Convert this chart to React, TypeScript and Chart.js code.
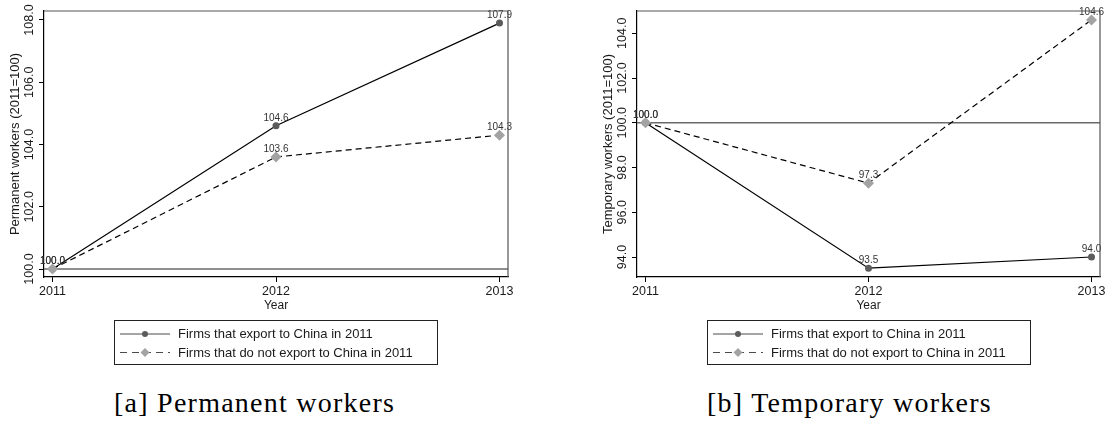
import React, { useEffect, useRef } from "react";
import { Chart, registerables } from "chart.js";

Chart.register(...registerables);

// ---------- data ----------
const years = [2011, 2012, 2013];
const xTickValues = [2011, 2012, 2013];
const seriesLabels = [
  "Firms that export to China in 2011",
  "Firms that do not export to China in 2011",
];
const permanentExport = [100.0, 104.6, 107.9];
const permanentNonExport = [100.0, 103.6, 104.3];
const temporaryExport = [100.0, 93.5, 94.0];
const temporaryNonExport = [100.0, 97.3, 104.6];
const permanentYTicks = [100, 102, 104, 106, 108];
const temporaryYTicks = [94, 96, 98, 100, 102, 104];
const referenceValue = 100;
const xTitle = "Year";

const SANS = "'Liberation Sans', Arial, Helvetica, sans-serif";
const SERIF = "'Liberation Serif', 'Times New Roman', serif";

type PanelProps = {
  exportVals: number[];
  nonExportVals: number[];
  yTicks: number[];
  yMin: number;
  yMax: number;
  yTitle: string;
  caption: string;
  left: number;
  width: number;
  padRight: number;
};

const CANVAS_H = 370;
const X_AXIS_H = 36;
const PLOT_TOP = 11;
const PLOT_BOTTOM = 277;

const refLinePlugin = {
  id: "refLine",
  beforeDatasetsDraw(chart: any) {
    const { ctx, chartArea } = chart;
    const y = chart.scales.y.getPixelForValue(referenceValue);
    ctx.save();
    ctx.strokeStyle = "#6a6a6a";
    ctx.lineWidth = 1.6;
    ctx.beginPath();
    ctx.moveTo(chartArea.left, y);
    ctx.lineTo(chartArea.right, y);
    ctx.stroke();
    ctx.restore();
  },
};

const framePlugin = {
  id: "frame",
  afterDraw(chart: any) {
    const { ctx, chartArea } = chart;
    ctx.save();
    ctx.strokeStyle = "#555";
    ctx.lineWidth = 1.2;
    ctx.beginPath();
    ctx.moveTo(chartArea.left, chartArea.top);
    ctx.lineTo(chartArea.right, chartArea.top);
    ctx.lineTo(chartArea.right, chartArea.bottom);
    ctx.stroke();
    ctx.restore();
  },
};

const dataLabelPlugin = {
  id: "dataLabels",
  afterDatasetsDraw(chart: any) {
    const { ctx } = chart;
    ctx.save();
    ctx.font = `10px ${SANS}`;
    ctx.fillStyle = "#333";
    ctx.textAlign = "center";
    ctx.textBaseline = "alphabetic";
    chart.data.datasets.forEach((ds: any, i: number) => {
      const meta = chart.getDatasetMeta(i);
      meta.data.forEach((pt: any, j: number) => {
        const v = ds.data[j].y as number;
        ctx.fillText(v.toFixed(1), pt.x, pt.y - 5);
      });
    });
    ctx.restore();
  },
};

const yTickLabelPlugin = {
  id: "yTickLabels",
  afterDraw(chart: any) {
    const { ctx } = chart;
    const ys = chart.scales.y;
    ctx.save();
    ctx.font = `12.5px ${SANS}`;
    ctx.fillStyle = "#1a1a1a";
    ctx.textAlign = "center";
    ctx.textBaseline = "alphabetic";
    for (const t of ys.ticks) {
      const py = ys.getPixelForValue(t.value);
      ctx.save();
      ctx.translate(ys.right - 11, py);
      ctx.rotate(-Math.PI / 2);
      ctx.fillText(Number(t.value).toFixed(1), 0, 0);
      ctx.restore();
    }
    ctx.restore();
  },
};

const legendBoxPlugin = {
  id: "legendBox",
  afterDraw(chart: any) {
    const { ctx } = chart;
    const bx = 114.5;
    const by = 320.5;
    const bw = 323;
    const bh = 44;
    ctx.save();
    ctx.strokeStyle = "#222";
    ctx.lineWidth = 1;
    ctx.strokeRect(bx, by, bw, bh);
    const rows = [334, 352.5];
    chart.data.datasets.forEach((ds: any, i: number) => {
      const ry = rows[i];
      ctx.save();
      ctx.strokeStyle = "#4a4a4a";
      ctx.lineWidth = 1;
      ctx.setLineDash(i === 0 ? [] : [7, 5]);
      ctx.beginPath();
      ctx.moveTo(120, ry);
      ctx.lineTo(170, ry);
      ctx.stroke();
      ctx.setLineDash([]);
      ctx.fillStyle = ds.pointBackgroundColor;
      ctx.beginPath();
      if (i === 0) {
        ctx.arc(145, ry, 3, 0, Math.PI * 2);
      } else {
        const r = 4.5;
        ctx.moveTo(145, ry - r);
        ctx.lineTo(145 + r, ry);
        ctx.lineTo(145, ry + r);
        ctx.lineTo(145 - r, ry);
        ctx.closePath();
      }
      ctx.fill();
      ctx.restore();
      ctx.font = `13px ${SANS}`;
      ctx.fillStyle = "#1a1a1a";
      ctx.textAlign = "left";
      ctx.textBaseline = "middle";
      ctx.fillText(ds.label, 178, ry + 0.5);
    });
    ctx.restore();
  },
};

function Panel(props: PanelProps) {
  const ref = useRef<HTMLCanvasElement | null>(null);
  useEffect(() => {
    if (!ref.current) return;
    const chart = new Chart(ref.current, {
      type: "line",
      data: {
        datasets: [
          {
            label: seriesLabels[0],
            data: years.map((x, i) => ({ x, y: props.exportVals[i] })),
            borderColor: "#000",
            borderWidth: 1.2,
            pointStyle: "circle",
            pointRadius: 3.5,
            pointBackgroundColor: "#5b5b5b",
            pointBorderColor: "#5b5b5b",
            pointBorderWidth: 0,
            tension: 0,
            order: 1,
          },
          {
            label: seriesLabels[1],
            data: years.map((x, i) => ({ x, y: props.nonExportVals[i] })),
            borderColor: "#000",
            borderWidth: 1.2,
            borderDash: [6, 4],
            pointStyle: "rectRot",
            pointRadius: 5.5,
            pointBackgroundColor: "#a3a3a3",
            pointBorderColor: "#a3a3a3",
            pointBorderWidth: 0,
            tension: 0,
            order: 0,
          },
        ],
      },
      options: {
        responsive: false,
        animation: false,
        events: [],
        layout: {
          padding: {
            left: 0,
            right: props.padRight,
            top: PLOT_TOP,
            bottom: CANVAS_H - PLOT_BOTTOM - X_AXIS_H,
          },
        },
        plugins: {
          legend: { display: false },
          tooltip: { enabled: false },
          title: { display: false },
        },
        scales: {
          x: {
            type: "linear",
            min: 2010.962,
            max: 2013.038,
            afterBuildTicks: (s: any) => {
              s.ticks = xTickValues.map((v) => ({ value: v }));
            },
            afterFit: (s: any) => {
              s.height = X_AXIS_H;
            },
            ticks: {
              color: "#1a1a1a",
              font: { family: SANS, size: 12.5 },
              padding: 2,
              autoSkip: false,
              maxRotation: 0,
              callback: (v: any) => String(v),
            },
            grid: {
              display: true,
              drawOnChartArea: false,
              drawTicks: true,
              tickLength: 5,
              color: "#000",
              lineWidth: 1,
            },
            border: { display: true, color: "#000", width: 1.2 },
            title: {
              display: true,
              text: xTitle,
              color: "#1a1a1a",
              font: { family: SANS, size: 12 },
              padding: { top: 0, bottom: 0 },
            },
          },
          y: {
            type: "linear",
            min: props.yMin,
            max: props.yMax,
            afterBuildTicks: (s: any) => {
              s.ticks = props.yTicks.map((v) => ({ value: v }));
            },
            afterFit: (s: any) => {
              s.width = 44;
            },
            ticks: { display: false },
            grid: {
              display: true,
              drawOnChartArea: false,
              drawTicks: true,
              tickLength: 5,
              color: "#000",
              lineWidth: 1,
            },
            border: { display: true, color: "#000", width: 1.2 },
            title: {
              display: true,
              text: props.yTitle,
              color: "#1a1a1a",
              font: { family: SANS, size: 13 },
              padding: { top: 7.5, bottom: 0 },
            },
          },
        },
      } as any,
      plugins: [refLinePlugin, framePlugin, dataLabelPlugin, yTickLabelPlugin, legendBoxPlugin],
    });
    return () => chart.destroy();
  }, []);
  return (
    <>
      <canvas
        ref={ref}
        width={props.width}
        height={CANVAS_H}
        style={{
          position: "absolute",
          left: props.left,
          top: 0,
          width: props.width,
          height: CANVAS_H,
          display: "block",
        }}
      />
      <div
        style={{
          position: "absolute",
          left: props.left + 114,
          top: 389,
          fontFamily: SERIF,
          fontSize: 28,
          lineHeight: "28px",
          letterSpacing: "1.25px",
          color: "#000",
          whiteSpace: "nowrap",
        }}
      >
        {props.caption}
      </div>
    </>
  );
}

export default function App() {
  return (
    <div
      style={{
        position: "absolute",
        left: 0,
        top: 0,
        width: 1114,
        height: 430,
        background: "#fff",
        overflow: "hidden",
      }}
    >
      <Panel
        exportVals={permanentExport}
        nonExportVals={permanentNonExport}
        yTicks={permanentYTicks}
        yMin={99.743}
        yMax={108.289}
        yTitle="Permanent workers (2011=100)"
        caption="[a] Permanent workers"
        left={0}
        width={557}
        padRight={49}
      />
      <Panel
        exportVals={temporaryExport}
        nonExportVals={temporaryNonExport}
        yTicks={temporaryYTicks}
        yMin={93.106}
        yMax={104.997}
        yTitle="Temporary workers (2011=100)"
        caption="[b] Temporary workers"
        left={593}
        width={521}
        padRight={14}
      />
    </div>
  );
}
